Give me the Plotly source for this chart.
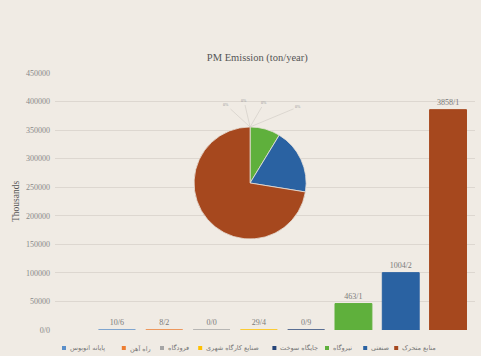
import plotly.graph_objects as go

categories = ["پایانه اتوبوس", "راه آهن", "فرودگاه", "صنایع کارگاه شهری",
              "جایگاه سوخت", "نیروگاه", "صنعتی", "منابع متحرک"]
values = [10.6, 8.2, 0.0, 29.4, 0.9, 46311, 100412, 385811]
value_labels = ["10/6", "8/2", "0/0", "29/4", "0/9", "463/1", "1004/2", "3858/1"]
pie_small_labels = ["0%", "0%", "0%", "0%"]
colors = ["#5b8fc9", "#ed7d31", "#a5a5a5", "#ffc000", "#264478",
          "#5fb03c", "#2a62a2", "#a6481e"]
ytick_vals = [0, 50000, 100000, 150000, 200000, 250000, 300000, 350000, 400000, 450000]
ytick_text = ["0/0", "50000", "100000", "150000", "200000", "250000",
              "300000", "350000", "400000", "450000"]

BG = "#f0ebe4"
SERIF = "Liberation Serif, DejaVu Serif, serif"
W, H = 481, 356
ML, MR, MT, MB = 55, 6, 73, 26
PW, PH = W - ML - MR, H - MT - MB

fig = go.Figure()
for i, c in enumerate(categories):
    fig.add_trace(go.Bar(
        x=[c], y=[values[i]], name=c,
        marker=dict(color=colors[i], line=dict(color=colors[i], width=1)),
        text=[value_labels[i]], textposition="outside",
        textfont=dict(family=SERIF, size=8, color="#7a7a7a"),
        cliponaxis=False, width=0.78, showlegend=False,
    ))

pie_dom_x = [0.331, 0.598]
pie_dom_y = [0.354, 0.79]
fig.add_trace(go.Pie(
    labels=categories, values=values, sort=False, direction="clockwise",
    marker=dict(colors=colors, line=dict(color="#e8e2da", width=0.8)),
    textinfo="none", showlegend=False,
    domain=dict(x=pie_dom_x, y=pie_dom_y), hoverinfo="skip",
))

# leader-line labels for the tiny pie slices (layout decoration)
top_x = sum(pie_dom_x) / 2
top_y = pie_dom_y[1]
offsets = [(-24, -22), (-6, -26), (14, -24), (48, -20)]
annotations = []
for lab, (dx, dy) in zip(pie_small_labels, offsets):
    annotations.append(dict(
        xref="paper", yref="paper", x=top_x, y=top_y, text=lab,
        showarrow=True, arrowhead=0, arrowwidth=0.6, arrowcolor="#cfc9c2",
        ax=dx, ay=dy, font=dict(family=SERIF, size=4, color="#999"),
    ))

# manual legend row
legend_font = 6.5
char_w = 3.6
x_cursor = 62
shapes = []
legend_y_px = 348
for c, col in zip(categories, colors):
    x0 = (x_cursor - ML) / PW
    x1 = (x_cursor + 4 - ML) / PW
    yc = (H - MB - legend_y_px) / PH
    shapes.append(dict(type="rect", xref="paper", yref="paper",
                       x0=x0, x1=x1, y0=yc - 2 / PH, y1=yc + 2 / PH,
                       fillcolor=col, line=dict(width=0)))
    annotations.append(dict(
        xref="paper", yref="paper", x=(x_cursor + 6 - ML) / PW, y=yc,
        xanchor="left", yanchor="middle", showarrow=False, text=c,
        font=dict(family="DejaVu Sans", size=legend_font, color="#777"),
    ))
    x_cursor += 6 + len(c) * char_w + 7

fig.update_layout(
    width=W, height=H,
    paper_bgcolor=BG, plot_bgcolor=BG,
    margin=dict(l=ML, r=MR, t=MT, b=MB),
    barmode="overlay",
    title=dict(text="PM Emission (ton/year)", x=0.535, y=0.84, xanchor="center",
               yanchor="middle", font=dict(family=SERIF, size=10.5, color="#555")),
    xaxis=dict(showticklabels=False, showgrid=False, zeroline=False,
               range=[-1.31, 7.57], categoryorder="array", categoryarray=categories),
    yaxis=dict(range=[0, 450000], tickvals=ytick_vals, ticktext=ytick_text,
               showgrid=True, gridcolor="#ddd7d0", gridwidth=1, zeroline=False,
               automargin=False, ticklabelstandoff=4,
               tickfont=dict(family=SERIF, size=8, color="#888"),
               title=dict(text="Thousands", font=dict(family=SERIF, size=9.5, color="#555"),
                          standoff=4)),
    annotations=annotations, shapes=shapes,
    showlegend=False,
)

fig.write_html("out.html", config={"displayModeBar": False},
               post_script="document.body.style.margin='0';document.body.style.background='%s';" % BG)
